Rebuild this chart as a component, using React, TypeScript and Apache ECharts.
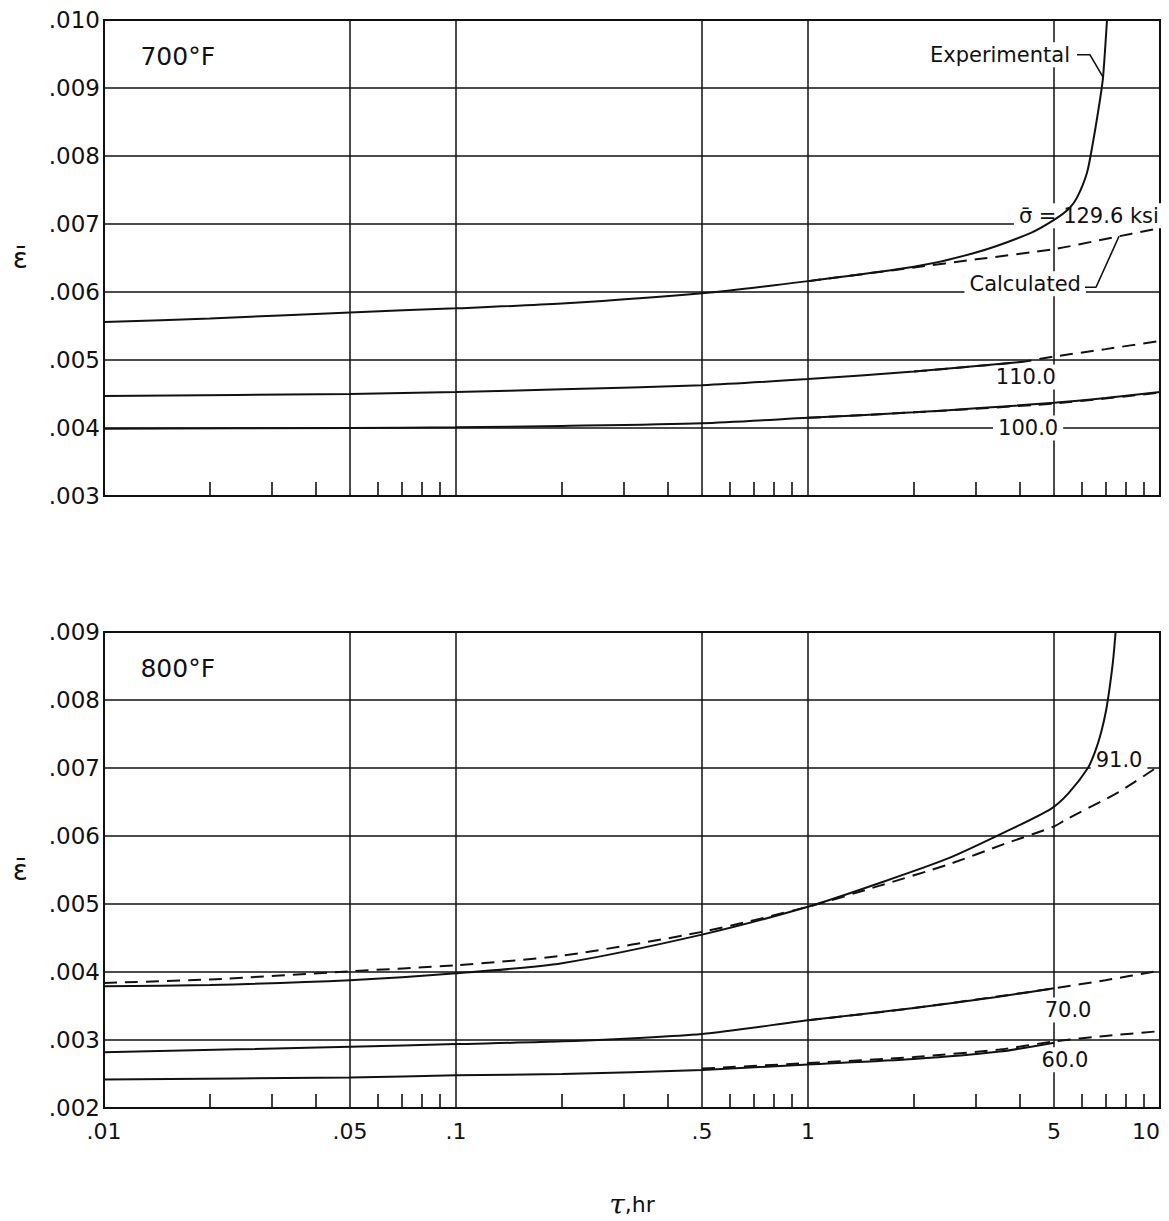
import React, { useEffect, useRef } from "react";
import * as echarts from "echarts";

// ---------- axes ----------
const tauMajor = [0.01, 0.05, 0.1, 0.5, 1, 5, 10];
const tauMajorLabels = [".01", ".05", ".1", ".5", "1", "5", "10"];
const tauMinor = [0.02, 0.03, 0.04, 0.06, 0.07, 0.08, 0.09, 0.2, 0.3, 0.4, 0.6, 0.7, 0.8, 0.9, 2, 3, 4, 6, 7, 8, 9];
const yTopTicks = [".003", ".004", ".005", ".006", ".007", ".008", ".009", ".010"];
const yBottomTicks = [".002", ".003", ".004", ".005", ".006", ".007", ".008", ".009"];

// ---------- 700°F ----------
const exp1296Tau = [0.01, 0.02, 0.05, 0.1, 0.2, 0.5, 1, 2, 3, 4.3, 5, 5.5, 5.8, 6.2, 6.45, 6.75, 6.89, 7.07];
const exp1296Eps = [0.00556, 0.00561, 0.0057, 0.00576, 0.00583, 0.00598, 0.00616, 0.00637, 0.00658, 0.00687, 0.00706, 0.00722, 0.00738, 0.00775, 0.0082, 0.00882, 0.00916, 0.01];
const calc1296Tau = [1, 2, 3, 5, 7, 10];
const calc1296Eps = [0.00616, 0.00636, 0.00648, 0.00663, 0.00678, 0.00694];
const exp110Tau = [0.01, 0.05, 0.1, 0.2, 0.5, 1, 2, 4];
const exp110Eps = [0.00447, 0.0045, 0.00453, 0.00457, 0.00463, 0.00472, 0.00483, 0.00497];
const calc110Tau = [2, 4, 5, 7, 10];
const calc110Eps = [0.00483, 0.00497, 0.00505, 0.00516, 0.00528];
const exp100Tau = [0.01, 0.05, 0.1, 0.2, 0.5, 1, 2, 3, 5, 7, 10];
const exp100Eps = [0.00399, 0.004, 0.00401, 0.00403, 0.00407, 0.00415, 0.00423, 0.00429, 0.00437, 0.00444, 0.00453];
const calc100Tau = [1, 2, 5, 10];
const calc100Eps = [0.00415, 0.00423, 0.00436, 0.00452];

// ---------- 800°F ----------
const exp91Tau = [0.01, 0.02, 0.05, 0.1, 0.2, 0.5, 1, 1.6, 2.5, 3.6, 4.9, 5.5, 6.24, 6.54, 6.8, 7.03, 7.21, 7.36, 7.48];
const exp91Eps = [0.00379, 0.00381, 0.00388, 0.00398, 0.00413, 0.00455, 0.00496, 0.00531, 0.00567, 0.00605, 0.0064, 0.00663, 0.007, 0.00724, 0.00752, 0.00785, 0.00822, 0.00859, 0.009];
const calc91Tau = [0.01, 0.02, 0.05, 0.1, 0.2, 0.5, 1, 1.6, 2.5, 3.6, 5, 5.4, 7.65, 10];
const calc91Eps = [0.00384, 0.00389, 0.00401, 0.0041, 0.00424, 0.00459, 0.00496, 0.00527, 0.00558, 0.00588, 0.00614, 0.00624, 0.00665, 0.00704];
const exp70Tau = [0.01, 0.05, 0.1, 0.2, 0.5, 1, 2, 3.4, 5];
const exp70Eps = [0.00282, 0.0029, 0.00294, 0.00298, 0.00309, 0.00329, 0.00347, 0.00363, 0.00376];
const calc70Tau = [1, 2, 5, 7, 10];
const calc70Eps = [0.00329, 0.00347, 0.00376, 0.00388, 0.00402];
const exp60Tau = [0.01, 0.05, 0.1, 0.2, 0.5, 1, 2, 3.5, 5];
const exp60Eps = [0.00242, 0.00245, 0.00248, 0.0025, 0.00256, 0.00264, 0.00272, 0.00283, 0.00296];
const calc60Tau = [0.5, 1, 2, 3.5, 5, 7, 10];
const calc60Eps = [0.00258, 0.00266, 0.00275, 0.00286, 0.00298, 0.00306, 0.00313];

const INK = "#111";
const FONT = "DejaVu Sans";

const zip = (a: number[], b: number[]) => a.map((t, i) => [t, b[i]]);

function curve(name: string, tau: number[], eps: number[], grid: number, dashed: boolean) {
  return {
    type: "line",
    name,
    xAxisIndex: grid * 2,
    yAxisIndex: grid,
    data: zip(tau, eps),
    smooth: 0.25,
    showSymbol: false,
    symbol: "none",
    z: 4,
    lineStyle: { color: INK, width: 2, type: dashed ? [13, 8] : "solid" },
    silent: true,
  };
}

function leader(pts: number[][], grid: number) {
  return {
    type: "line",
    xAxisIndex: grid * 2,
    yAxisIndex: grid,
    data: pts,
    symbol: "none",
    z: 4,
    lineStyle: { color: INK, width: 1.6 },
    silent: true,
  };
}

function notes(items: { text: string; at: number[]; size?: number; bg?: boolean }[], grid: number) {
  return {
    type: "scatter",
    xAxisIndex: grid * 2,
    yAxisIndex: grid,
    symbolSize: 0,
    z: 2,
    silent: true,
    itemStyle: { color: INK, opacity: 1 },
    data: items.map((it) => ({
      value: it.at,
      label: {
        show: true,
        position: "inside",
        formatter: it.text,
        fontFamily: FONT,
        fontSize: it.size || 21,
        color: INK,
        opacity: 1,
        textBorderWidth: 0,
        textBorderColor: "transparent",
        backgroundColor: it.bg === false ? "transparent" : "#fff",
        padding: [2, 5],
      },
    })),
  };
}

function xAxes(grid: number, labels: boolean) {
  return [
    {
      type: "log",
      logBase: 10,
      gridIndex: grid,
      min: 0.01,
      max: 10,
      position: "bottom",
      axisLine: { show: true, lineStyle: { color: INK, width: 2 } },
      axisTick: { show: false, customValues: tauMajor },
      axisLabel: {
        show: labels,
        customValues: tauMajor,
        margin: 12,
        fontFamily: FONT,
        fontSize: 22,
        color: INK,
        alignMaxLabel: "right",
        formatter: (v: number) => {
          const i = tauMajor.findIndex((t) => Math.abs(t - v) / t < 1e-6);
          return i >= 0 ? tauMajorLabels[i] : "";
        },
      },
      splitLine: { show: true, lineStyle: { color: INK, width: 1.5 } },
      name: labels ? "{t|τ},hr" : "",
      nameLocation: "middle",
      nameGap: 82,
      nameTextStyle: {
        fontFamily: FONT,
        fontSize: 22,
        color: INK,
        rich: { t: { fontFamily: "DejaVu Serif", fontStyle: "italic", fontSize: 28, color: INK } },
      },
    },
    {
      type: "log",
      logBase: 10,
      gridIndex: grid,
      min: 0.01,
      max: 10,
      position: "bottom",
      offset: 0,
      axisLine: { show: false },
      axisTick: { show: true, inside: true, length: 14, customValues: tauMinor, lineStyle: { color: INK, width: 1.6 } },
      axisLabel: { show: false },
      splitLine: { show: false },
    },
  ];
}

function yAxis(grid: number, min: number, max: number, ticks: string[]) {
  return {
    type: "value",
    gridIndex: grid,
    min,
    max,
    interval: 0.001,
    axisLine: { show: true, lineStyle: { color: INK, width: 2 } },
    axisTick: { show: false },
    axisLabel: {
      margin: 4,
      fontFamily: FONT,
      fontSize: 23,
      color: INK,
      formatter: (v: number) => ticks[Math.round((v - min) / 0.001)] ?? "",
    },
    splitLine: { show: true, lineStyle: { color: INK, width: 1.5 } },
    name: "ε\u0304",
    nameLocation: "middle",
    nameRotate: 0,
    nameGap: 76,
    nameTextStyle: { fontFamily: FONT, fontSize: 28, color: INK },
  };
}

export default function App() {
  const ref = useRef<HTMLDivElement>(null);
  useEffect(() => {
    if (!ref.current) return;
    const chart = echarts.init(ref.current, null, { renderer: "svg" });
    const gridBase = { left: 104, width: 1056, height: 476, show: true, borderColor: INK, borderWidth: 2, containLabel: false, outerBoundsMode: "none" };
    const option = {
      animation: false,
      backgroundColor: "#fff",
      grid: [
        { ...gridBase, top: 20 },
        { ...gridBase, top: 632 },
      ],
      xAxis: [...xAxes(0, false), ...xAxes(1, true)],
      yAxis: [yAxis(0, 0.003, 0.01, yTopTicks), yAxis(1, 0.002, 0.009, yBottomTicks)],
      series: [
        curve("Experimental 129.6", exp1296Tau, exp1296Eps, 0, false),
        curve("Calculated 129.6", calc1296Tau, calc1296Eps, 0, true),
        curve("Experimental 110.0", exp110Tau, exp110Eps, 0, false),
        curve("Calculated 110.0", calc110Tau, calc110Eps, 0, true),
        curve("Experimental 100.0", exp100Tau, exp100Eps, 0, false),
        curve("Calculated 100.0", calc100Tau, calc100Eps, 0, true),
        curve("Experimental 91.0", exp91Tau, exp91Eps, 1, false),
        curve("Calculated 91.0", calc91Tau, calc91Eps, 1, true),
        curve("Experimental 70.0", exp70Tau, exp70Eps, 1, false),
        curve("Calculated 70.0", calc70Tau, calc70Eps, 1, true),
        curve("Experimental 60.0", exp60Tau, exp60Eps, 1, false),
        curve("Calculated 60.0", calc60Tau, calc60Eps, 1, true),
        leader([[5.81, 0.00949], [6.32, 0.00949], [6.89, 0.00916]], 0),
        leader([[6.12, 0.00607], [6.58, 0.00607], [7.65, 0.00682]], 0),
        notes(
          [
            { text: "700°F", at: [0.0162, 0.00946], size: 25, bg: false },
            { text: "Experimental", at: [3.51, 0.00949] },
            { text: "σ\u0304 = 129.6 ksi", at: [6.28, 0.00712] },
            { text: "Calculated", at: [4.14, 0.00612] },
            { text: "110.0", at: [4.16, 0.00475] },
            { text: "100.0", at: [4.22, 0.004] },
          ],
          0
        ),
        notes(
          [
            { text: "800°F", at: [0.0162, 0.00846], size: 25, bg: false },
            { text: "91.0", at: [7.65, 0.00712] },
            { text: "70.0", at: [5.48, 0.00344] },
            { text: "60.0", at: [5.37, 0.00271] },
          ],
          1
        ),
      ],
    };
    chart.setOption(option as any);
    return () => chart.dispose();
  }, []);
  return (
    <div
      ref={ref}
      style={{ position: "absolute", left: 0, top: 0, width: 1169, height: 1221, background: "#fff" }}
    />
  );
}
